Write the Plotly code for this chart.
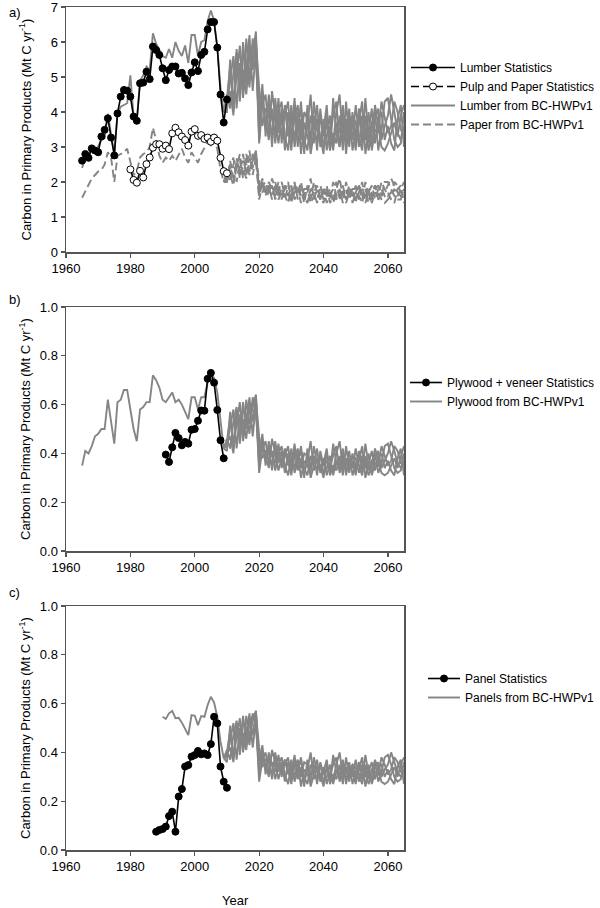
import plotly.graph_objects as go

# ---------------- data ----------------
years_lumber_stats = list(range(1965, 2011))
lumber_stats = [2.61, 2.80, 2.69, 2.96, 2.90, 2.85, 3.30, 3.49, 3.82, 3.27,
                2.76, 3.96, 4.44, 4.63, 4.61, 4.44, 3.87, 3.75, 4.82, 4.84,
                5.15, 4.94, 5.87, 5.77, 5.63, 5.25, 4.91, 5.20, 5.30, 5.30,
                5.10, 5.12, 4.96, 4.77, 5.13, 5.42, 5.17, 5.63, 5.72, 6.36,
                6.57, 6.57, 5.84, 4.50, 3.70, 4.36]

years_pulp_stats = list(range(1980, 2011))
pulp_stats = [2.36, 2.06, 1.98, 2.32, 2.13, 2.51, 2.70, 2.98, 3.08, 3.08,
              2.95, 3.04, 2.94, 3.39, 3.55, 3.42, 3.30, 3.20, 3.04, 3.44,
              3.51, 3.32, 3.34, 3.23, 3.27, 3.15, 3.27, 3.18, 2.69, 2.31,
              2.25]

years_hist = list(range(1965, 2010))
lumber_model = [2.40, 2.70, 2.75, 3.00, 2.85, 3.05, 3.20, 3.25, 3.95, 3.35,
                2.80, 3.95, 4.15, 4.20, 4.25, 5.05, 3.85, 3.75, 4.90, 5.05,
                5.30, 5.20, 6.25, 5.95, 5.75, 5.60, 5.55, 5.80, 5.55, 6.00,
                5.75, 5.60, 5.90, 5.40, 6.20, 6.20, 5.60, 6.00, 6.05, 6.60,
                6.90, 6.60, 5.85, 4.70, 4.00]
paper_model = [1.55, 1.75, 1.95, 2.10, 2.20, 2.30, 2.35, 2.50, 2.85, 2.70,
               2.00, 2.75, 2.80, 2.85, 2.95, 2.60, 2.20, 2.30, 2.70, 2.80,
               2.85, 3.00, 3.55, 3.20, 2.75, 2.55, 2.70, 2.60, 2.75, 2.60,
               2.80, 2.95, 2.70, 2.55, 2.85, 2.70, 2.55, 2.80, 3.00, 3.15,
               3.05, 3.25, 2.95, 2.35, 2.00]
plywood_model = [0.35, 0.41, 0.40, 0.43, 0.47, 0.48, 0.50, 0.50, 0.62, 0.53,
                 0.44, 0.61, 0.62, 0.66, 0.66, 0.58, 0.50, 0.45, 0.58, 0.59,
                 0.61, 0.61, 0.72, 0.70, 0.67, 0.62, 0.61, 0.63, 0.65, 0.61,
                 0.62, 0.60, 0.57, 0.54, 0.63, 0.63, 0.58, 0.63, 0.63, 0.69,
                 0.72, 0.71, 0.65, 0.53, 0.42]

years_plywood_stats = list(range(1991, 2010))
plywood_stats = [0.395, 0.365, 0.425, 0.484, 0.463, 0.433, 0.447, 0.440, 0.497, 0.500,
                 0.534, 0.576, 0.575, 0.706, 0.730, 0.690, 0.578, 0.454, 0.380]

years_panel_model = list(range(1990, 2010))
panel_model = [0.546, 0.537, 0.560, 0.570, 0.540, 0.542, 0.522, 0.496, 0.471, 0.553,
               0.550, 0.512, 0.549, 0.546, 0.594, 0.628, 0.604, 0.546, 0.444, 0.376]

years_panel_stats = list(range(1988, 2011))
panel_stats = [0.075, 0.082, 0.086, 0.096, 0.139, 0.157, 0.075, 0.219, 0.250, 0.342,
               0.348, 0.383, 0.389, 0.406, 0.392, 0.396, 0.389, 0.434, 0.546, 0.519,
               0.342, 0.280, 0.255]

years_sim = list(range(2010, 2066))

lumber_sims = [
    [4.4, 5.3, 4.0, 5.8, 4.5, 6.0, 4.8, 5.9, 5.2, 6.2,
     3.2, 4.6, 3.5, 4.3, 3.0, 4.4, 3.4, 4.1, 2.9, 4.0,
     3.3, 4.4, 3.0, 3.8, 2.8, 4.2, 3.2, 3.9, 2.9, 4.1,
     3.3, 3.7, 2.9, 4.4, 3.4, 3.0, 4.0, 2.8, 3.8, 3.2,
     4.2, 3.3, 2.9, 3.9, 3.1, 3.7, 4.0, 2.9, 3.5, 4.3,
     4.4, 3.8, 3.2, 3.0, 3.1, 4.0],
    [4.2, 4.9, 5.6, 4.1, 5.4, 4.6, 6.1, 5.0, 5.7, 6.3,
     3.9, 4.8, 3.3, 4.5, 3.8, 3.4, 4.4, 3.1, 4.2, 3.5,
     2.9, 4.1, 3.4, 4.3, 3.0, 3.6, 4.5, 3.1, 3.8, 3.3,
     2.8, 4.0, 3.2, 3.9, 4.3, 3.0, 3.7, 3.3, 4.1, 2.9,
     3.5, 4.0, 3.1, 4.4, 3.3, 3.0, 3.8, 4.1, 3.2, 3.6,
     3.9, 4.5, 4.0, 3.4, 3.2, 3.6],
    [4.0, 5.5, 4.3, 5.0, 5.9, 4.4, 5.3, 6.2, 4.6, 5.8,
     3.1, 4.2, 4.5, 3.4, 4.1, 3.1, 4.0, 4.3, 3.3, 2.9,
     3.9, 3.2, 4.0, 2.8, 3.7, 3.3, 3.0, 4.3, 3.5, 3.1,
     3.8, 2.9, 3.6, 3.1, 4.0, 4.5, 3.2, 3.8, 3.0, 4.0,
     3.1, 3.7, 4.3, 2.8, 3.5, 4.1, 3.1, 3.8, 4.0, 3.2,
     3.6, 3.1, 2.9, 3.8, 4.2, 3.0],
    [4.5, 4.1, 5.1, 5.7, 4.3, 5.6, 5.4, 4.7, 6.1, 5.5,
     3.6, 4.3, 3.8, 3.2, 4.6, 3.9, 3.1, 3.8, 4.1, 3.3,
     4.2, 3.0, 3.6, 4.1, 3.2, 2.9, 3.9, 3.5, 4.2, 3.0,
     3.5, 4.2, 2.9, 3.4, 3.1, 3.9, 2.9, 4.3, 3.2, 3.7,
     2.9, 4.1, 3.6, 3.2, 4.0, 2.9, 3.5, 3.4, 4.3, 3.8,
     3.4, 3.6, 4.3, 4.0, 3.5, 3.3],
    [4.3, 4.6, 3.9, 5.3, 4.8, 5.2, 4.5, 5.6, 5.9, 6.0,
     4.7, 3.6, 4.1, 3.9, 3.3, 4.2, 3.7, 3.4, 3.9, 4.3,
     3.1, 3.8, 4.2, 3.2, 4.0, 3.8, 2.8, 3.4, 3.2, 3.9,
     3.0, 3.3, 3.9, 2.9, 3.7, 3.4, 4.2, 3.1, 3.5, 3.9,
     3.7, 3.0, 3.9, 3.5, 2.9, 3.4, 4.2, 3.6, 3.0, 2.9,
     3.1, 3.4, 3.7, 3.3, 3.9, 4.2],
]

paper_sims = [
    [2.2, 2.5, 2.0, 2.6, 2.3, 2.8, 2.2, 2.7, 2.4, 2.9,
     1.6, 2.0, 1.7, 1.9, 1.5, 2.0, 1.6, 1.8, 1.5, 1.9,
     1.6, 2.0, 1.5, 1.8, 1.4, 1.9, 1.6, 1.7, 1.4, 1.9,
     1.6, 1.7, 1.5, 2.0, 1.6, 1.5, 1.8, 1.4, 1.7, 1.6,
     1.9, 1.6, 1.4, 1.8, 1.5, 1.7, 1.9, 1.5, 1.6, 2.0,
     2.0, 1.8, 1.6, 1.5, 1.5, 1.8],
    [2.1, 2.4, 2.7, 2.0, 2.6, 2.2, 2.8, 2.3, 2.6, 2.9,
     1.8, 2.1, 1.6, 2.0, 1.8, 1.6, 2.0, 1.5, 1.9, 1.7,
     1.4, 1.9, 1.7, 2.0, 1.5, 1.7, 2.1, 1.5, 1.8, 1.6,
     1.4, 1.8, 1.6, 1.8, 2.0, 1.5, 1.7, 1.6, 1.9, 1.4,
     1.7, 1.9, 1.5, 2.0, 1.6, 1.5, 1.8, 1.9, 1.6, 1.7,
     1.9, 2.1, 1.9, 1.7, 1.6, 1.7],
    [2.0, 2.6, 2.1, 2.4, 2.8, 2.1, 2.5, 2.9, 2.2, 2.7,
     1.5, 1.9, 2.0, 1.7, 1.9, 1.5, 1.8, 2.0, 1.6, 1.4,
     1.8, 1.6, 1.8, 1.4, 1.7, 1.6, 1.5, 2.0, 1.7, 1.5,
     1.8, 1.4, 1.7, 1.5, 1.8, 2.1, 1.6, 1.8, 1.5, 1.8,
     1.5, 1.7, 2.0, 1.4, 1.7, 1.9, 1.5, 1.8, 1.8, 1.6,
     1.7, 1.5, 1.4, 1.8, 1.9, 1.4],
    [2.3, 2.0, 2.5, 2.7, 2.1, 2.6, 2.5, 2.2, 2.8, 2.6,
     1.7, 2.0, 1.8, 1.6, 2.1, 1.8, 1.5, 1.7, 1.9, 1.6,
     1.9, 1.5, 1.7, 1.9, 1.6, 1.4, 1.8, 1.7, 1.9, 1.5,
     1.7, 1.9, 1.4, 1.6, 1.5, 1.8, 1.4, 2.0, 1.6, 1.7,
     1.4, 1.9, 1.7, 1.6, 1.8, 1.4, 1.7, 1.6, 2.0, 1.8,
     1.6, 1.7, 2.0, 1.9, 1.7, 1.6],
    [2.2, 2.2, 1.9, 2.5, 2.3, 2.4, 2.1, 2.6, 2.7, 2.8,
     2.0, 1.7, 1.9, 1.8, 1.6, 1.9, 1.7, 1.6, 1.8, 2.0,
     1.5, 1.7, 1.9, 1.6, 1.8, 1.8, 1.4, 1.6, 1.5, 1.8,
     1.5, 1.6, 1.8, 1.4, 1.7, 1.6, 1.9, 1.5, 1.7, 1.8,
     1.8, 1.5, 1.8, 1.7, 1.4, 1.6, 1.9, 1.7, 1.5, 1.4,
     1.5, 1.6, 1.8, 1.6, 1.8, 2.0],
]

plywood_sims = [
    [0.45, 0.55, 0.42, 0.58, 0.47, 0.61, 0.50, 0.60, 0.53, 0.64,
     0.34, 0.46, 0.37, 0.43, 0.33, 0.45, 0.36, 0.41, 0.32, 0.40,
     0.35, 0.44, 0.33, 0.38, 0.30, 0.42, 0.34, 0.39, 0.31, 0.41,
     0.35, 0.37, 0.32, 0.44, 0.36, 0.33, 0.40, 0.31, 0.38, 0.34,
     0.42, 0.35, 0.31, 0.39, 0.33, 0.37, 0.40, 0.32, 0.36, 0.43,
     0.44, 0.39, 0.34, 0.32, 0.33, 0.40],
    [0.43, 0.51, 0.58, 0.42, 0.56, 0.47, 0.62, 0.52, 0.59, 0.64,
     0.40, 0.48, 0.35, 0.45, 0.39, 0.36, 0.44, 0.34, 0.42, 0.37,
     0.31, 0.41, 0.36, 0.43, 0.32, 0.37, 0.45, 0.33, 0.38, 0.35,
     0.30, 0.40, 0.34, 0.39, 0.43, 0.32, 0.37, 0.35, 0.41, 0.31,
     0.36, 0.40, 0.33, 0.44, 0.35, 0.32, 0.38, 0.41, 0.34, 0.37,
     0.40, 0.45, 0.41, 0.36, 0.34, 0.37],
    [0.41, 0.57, 0.44, 0.52, 0.61, 0.45, 0.55, 0.63, 0.47, 0.60,
     0.32, 0.42, 0.45, 0.36, 0.41, 0.33, 0.40, 0.43, 0.35, 0.31,
     0.39, 0.34, 0.40, 0.30, 0.37, 0.35, 0.32, 0.43, 0.36, 0.33,
     0.38, 0.31, 0.36, 0.33, 0.40, 0.45, 0.34, 0.38, 0.32, 0.40,
     0.33, 0.37, 0.43, 0.30, 0.36, 0.41, 0.33, 0.38, 0.40, 0.34,
     0.37, 0.33, 0.31, 0.38, 0.42, 0.31],
    [0.46, 0.42, 0.53, 0.59, 0.44, 0.58, 0.56, 0.48, 0.63, 0.57,
     0.37, 0.43, 0.39, 0.34, 0.46, 0.40, 0.33, 0.38, 0.41, 0.35,
     0.42, 0.32, 0.37, 0.41, 0.34, 0.31, 0.39, 0.36, 0.42, 0.32,
     0.36, 0.42, 0.31, 0.35, 0.33, 0.39, 0.31, 0.43, 0.34, 0.37,
     0.31, 0.41, 0.37, 0.34, 0.40, 0.31, 0.36, 0.35, 0.43, 0.39,
     0.35, 0.37, 0.43, 0.41, 0.36, 0.35],
    [0.44, 0.47, 0.40, 0.55, 0.49, 0.54, 0.46, 0.58, 0.61, 0.62,
     0.47, 0.38, 0.41, 0.40, 0.35, 0.42, 0.38, 0.36, 0.39, 0.43,
     0.33, 0.38, 0.42, 0.34, 0.40, 0.39, 0.30, 0.35, 0.34, 0.39,
     0.32, 0.34, 0.39, 0.31, 0.37, 0.35, 0.42, 0.33, 0.36, 0.39,
     0.38, 0.32, 0.39, 0.36, 0.31, 0.35, 0.42, 0.37, 0.32, 0.31,
     0.32, 0.35, 0.38, 0.34, 0.39, 0.43],
]

panel_sims = [
    [0.40, 0.49, 0.37, 0.52, 0.42, 0.55, 0.44, 0.54, 0.47, 0.57,
     0.30, 0.41, 0.33, 0.38, 0.29, 0.40, 0.32, 0.36, 0.28, 0.36,
     0.31, 0.39, 0.29, 0.34, 0.26, 0.37, 0.30, 0.35, 0.27, 0.36,
     0.31, 0.33, 0.28, 0.39, 0.32, 0.29, 0.36, 0.27, 0.34, 0.30,
     0.37, 0.31, 0.27, 0.35, 0.29, 0.33, 0.36, 0.28, 0.32, 0.38,
     0.39, 0.35, 0.30, 0.28, 0.29, 0.36],
    [0.38, 0.45, 0.52, 0.37, 0.50, 0.42, 0.55, 0.46, 0.53, 0.57,
     0.36, 0.43, 0.31, 0.40, 0.35, 0.32, 0.39, 0.30, 0.37, 0.33,
     0.27, 0.36, 0.32, 0.38, 0.28, 0.33, 0.40, 0.29, 0.34, 0.31,
     0.26, 0.35, 0.30, 0.35, 0.38, 0.28, 0.33, 0.31, 0.36, 0.27,
     0.32, 0.35, 0.29, 0.39, 0.31, 0.28, 0.34, 0.36, 0.30, 0.33,
     0.35, 0.40, 0.36, 0.32, 0.30, 0.33],
    [0.36, 0.51, 0.39, 0.46, 0.54, 0.40, 0.49, 0.56, 0.42, 0.53,
     0.28, 0.37, 0.40, 0.32, 0.36, 0.29, 0.35, 0.38, 0.31, 0.27,
     0.35, 0.30, 0.36, 0.26, 0.33, 0.31, 0.28, 0.38, 0.32, 0.29,
     0.34, 0.27, 0.32, 0.29, 0.35, 0.40, 0.30, 0.34, 0.28, 0.35,
     0.29, 0.33, 0.38, 0.26, 0.32, 0.36, 0.29, 0.34, 0.35, 0.30,
     0.33, 0.29, 0.27, 0.34, 0.37, 0.27],
    [0.41, 0.37, 0.47, 0.53, 0.39, 0.52, 0.50, 0.43, 0.56, 0.51,
     0.33, 0.38, 0.35, 0.30, 0.41, 0.36, 0.29, 0.34, 0.37, 0.31,
     0.37, 0.28, 0.33, 0.37, 0.30, 0.27, 0.35, 0.32, 0.37, 0.28,
     0.32, 0.37, 0.27, 0.31, 0.29, 0.35, 0.27, 0.38, 0.30, 0.33,
     0.27, 0.36, 0.33, 0.30, 0.35, 0.27, 0.32, 0.31, 0.38, 0.35,
     0.31, 0.33, 0.38, 0.36, 0.32, 0.31],
    [0.39, 0.42, 0.36, 0.49, 0.44, 0.48, 0.41, 0.52, 0.55, 0.56,
     0.42, 0.34, 0.37, 0.36, 0.31, 0.37, 0.34, 0.32, 0.35, 0.38,
     0.29, 0.34, 0.37, 0.30, 0.36, 0.35, 0.26, 0.31, 0.30, 0.35,
     0.28, 0.30, 0.35, 0.27, 0.33, 0.31, 0.37, 0.29, 0.32, 0.35,
     0.34, 0.28, 0.35, 0.32, 0.27, 0.31, 0.37, 0.33, 0.28, 0.27,
     0.28, 0.31, 0.34, 0.30, 0.35, 0.38],
]

x_ticks = [1960, 1980, 2000, 2020, 2040, 2060]
y_ticks_a = [0, 1, 2, 3, 4, 5, 6, 7]
y_ticks_bc = [0.0, 0.2, 0.4, 0.6, 0.8, 1.0]

# ---------------- styles ----------------
GRAY = "#858585"
FONT = "Arial, Liberation Sans, sans-serif"
W, H = 600, 908
PAPER_DASH = "8px,4px"

fig = go.Figure()


def add_model(xs, ys, sims, xa, ya, name, legend, dash="solid"):
    fig.add_trace(go.Scatter(x=xs, y=ys, mode="lines", xaxis=xa, yaxis=ya,
                             line=dict(color=GRAY, width=1.9, dash=dash),
                             name=name, legend=legend, showlegend=True))
    for s in sims:
        fig.add_trace(go.Scatter(x=[xs[-1]] + years_sim, y=[ys[-1]] + s, mode="lines",
                                 xaxis=xa, yaxis=ya,
                                 line=dict(color=GRAY, width=1.9, dash=dash),
                                 showlegend=False, hoverinfo="skip"))


def add_stats(xs, ys, xa, ya, name, legend, open_marker=False, legend_dash="solid"):
    marker = dict(size=7, color="white" if open_marker else "black",
                  line=dict(color="black", width=1))
    fig.add_trace(go.Scatter(x=xs, y=ys, mode="lines+markers", xaxis=xa, yaxis=ya,
                             line=dict(color="black", width=1.6), marker=marker,
                             showlegend=False))
    fig.add_trace(go.Scatter(x=[None], y=[None], mode="lines+markers", xaxis=xa, yaxis=ya,
                             line=dict(color="black", width=1.6, dash=legend_dash),
                             marker=marker, name=name, legend=legend, showlegend=True))


# Panel a
add_model(years_hist, lumber_model, lumber_sims, "x", "y", "Lumber from BC-HWPv1", "legend")
add_model(years_hist, paper_model, paper_sims, "x", "y", "Paper from BC-HWPv1", "legend",
          dash=PAPER_DASH)
add_stats(years_lumber_stats, lumber_stats, "x", "y", "Lumber Statistics", "legend")
add_stats(years_pulp_stats, pulp_stats, "x", "y", "Pulp and Paper Statistics", "legend",
          open_marker=True, legend_dash="8px,4px")
# Panel b
add_model(years_hist, plywood_model, plywood_sims, "x2", "y2", "Plywood from BC-HWPv1", "legend2")
add_stats(years_plywood_stats, plywood_stats, "x2", "y2", "Plywood + veneer Statistics", "legend2")
# Panel c
add_model(years_panel_model, panel_model, panel_sims, "x3", "y3", "Panels from BC-HWPv1", "legend3")
add_stats(years_panel_stats, panel_stats, "x3", "y3", "Panel Statistics", "legend3")

order = {"Lumber Statistics": 1, "Pulp and Paper Statistics": 2, "Lumber from BC-HWPv1": 3,
         "Paper from BC-HWPv1": 4, "Plywood + veneer Statistics": 1, "Plywood from BC-HWPv1": 2,
         "Panel Statistics": 1, "Panels from BC-HWPv1": 2}
for tr in fig.data:
    if tr.name in order:
        tr.legendrank = order[tr.name]


def px2y(p):
    return 1 - p / H


x_dom = [66 / W, 404 / W]
axis_common = dict(showline=True, linecolor="#555555", linewidth=1.5, mirror=True,
                   ticks="outside", ticklen=4, tickcolor="#555555", tickwidth=1.2,
                   showgrid=False, zeroline=False, automargin=False,
                   ticklabeloverflow="allow",
                   tickfont=dict(family=FONT, size=13, color="black"))

panels = [("", [px2y(252), px2y(7)], [0, 7], y_ticks_a, None),
          ("2", [px2y(551), px2y(307)], [0, 1], y_ticks_bc, ".1f"),
          ("3", [px2y(850), px2y(606)], [0, 1], y_ticks_bc, ".1f")]

layout = dict(width=W, height=H, paper_bgcolor="white", plot_bgcolor="white",
              margin=dict(l=0, r=0, t=0, b=0, pad=0, autoexpand=False),
              font=dict(family=FONT, size=12, color="black"),
              showlegend=True)
for suf, ydom, yr, yt, fmt in panels:
    layout["xaxis" + suf] = dict(domain=x_dom, range=[1960, 2065], tickvals=x_ticks,
                                 anchor="y" + suf, **axis_common)
    ya = dict(domain=ydom, range=yr, tickvals=yt, anchor="x" + suf, **axis_common)
    if fmt:
        ya["tickformat"] = fmt
    layout["yaxis" + suf] = ya

leg_common = dict(x=1, xanchor="right", yanchor="top", bgcolor="rgba(0,0,0,0)",
                  font=dict(family=FONT, size=12, color="black"),
                  tracegroupgap=0, traceorder="normal")
layout["legend"] = dict(y=px2y(53), itemwidth=44, **leg_common)
layout["legend2"] = dict(y=px2y(368), itemwidth=32, **leg_common)
layout["legend3"] = dict(y=px2y(664), itemwidth=32, **leg_common)

fig.update_layout(**layout)

ytitle = "Carbon in Primary Products (Mt C yr<sup>-1</sup>)"
for label, top, bottom, ly in [("a)", 7, 252, 3), ("b)", 307, 551, 290), ("c)", 606, 850, 583)]:
    fig.add_annotation(text=ytitle, xref="paper", yref="paper", x=25 / W,
                       y=px2y((top + bottom) / 2), textangle=-90, showarrow=False,
                       font=dict(family=FONT, size=13, color="black"),
                       xanchor="center", yanchor="middle")
    fig.add_annotation(text=label, xref="paper", yref="paper", x=7 / W, y=px2y(ly),
                       showarrow=False, xanchor="left", yanchor="top",
                       font=dict(family=FONT, size=13, color="black"))

fig.add_annotation(text="Year", xref="paper", yref="paper", x=235 / W, y=px2y(900),
                   showarrow=False, xanchor="center", yanchor="middle",
                   font=dict(family=FONT, size=13, color="black"))

fig.write_html("out.html",
               config={"displayModeBar": False, "staticPlot": True},
               post_script="document.body.style.margin='0';"
                           "document.body.style.padding='0';"
                           "document.body.style.overflow='hidden';")
